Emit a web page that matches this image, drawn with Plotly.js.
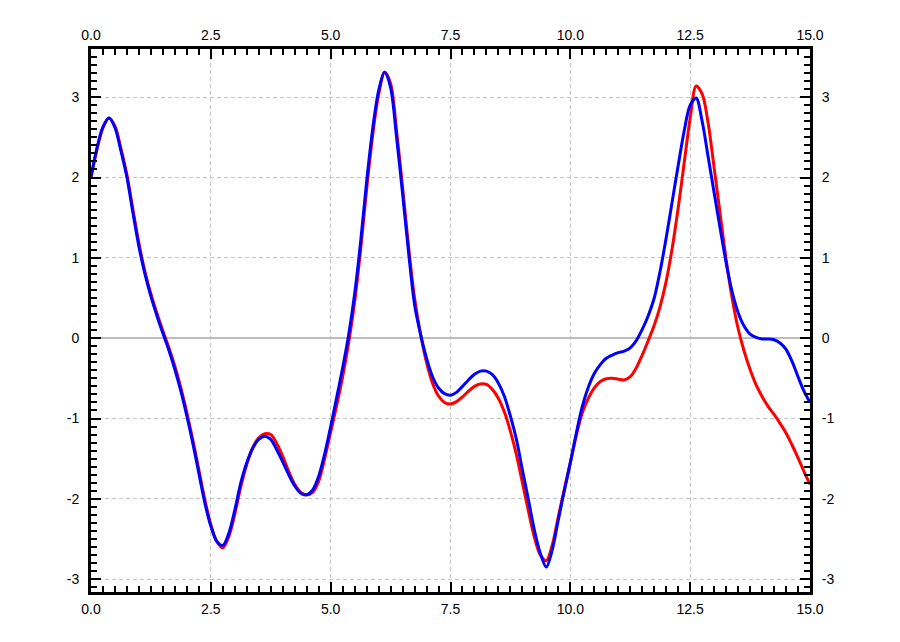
<!DOCTYPE html>
<html>
<head>
<meta charset="utf-8">
<script src="https://cdn.plot.ly/plotly-3.0.1.min.js"></script>
<style>html,body{margin:0;padding:0;background:#fff;}#chart{width:900px;height:642px;}</style>
</head>
<body>
<div id="chart"></div>
<script>
var xValues = [0,0.125,0.25,0.375,0.5,0.625,0.75,0.875,1,1.125,1.25,1.375,1.5,1.625,1.75,1.875,
  2,2.125,2.25,2.375,2.5,2.625,2.75,2.875,3,3.125,3.25,3.375,3.5,3.625,3.75,3.875,
  4,4.125,4.25,4.375,4.5,4.625,4.75,4.875,5,5.125,5.25,5.375,5.5,5.625,5.75,5.875,
  6,6.125,6.25,6.375,6.5,6.625,6.75,6.875,7,7.125,7.25,7.375,7.5,7.625,7.75,7.875,
  8,8.125,8.25,8.375,8.5,8.625,8.75,8.875,9,9.125,9.25,9.375,9.5,9.625,9.75,9.875,
  10,10.125,10.25,10.375,10.5,10.625,10.75,10.875,11,11.125,11.25,11.375,11.5,11.625,11.75,11.875,
  12,12.125,12.25,12.375,12.5,12.625,12.75,12.875,13,13.125,13.25,13.375,13.5,13.625,13.75,13.875,
  14,14.125,14.25,14.375,14.5,14.625,14.75,14.875,15];

var redValues = [2.00,2.35,2.62,2.74,2.64,2.36,2.03,1.60,1.18,0.83,0.55,0.31,0.09,-0.12,-0.35,-0.62,
  -0.93,-1.27,-1.64,-2.01,-2.32,-2.53,-2.61,-2.47,-2.19,-1.85,-1.57,-1.36,-1.24,-1.19,-1.20,-1.31,
  -1.47,-1.66,-1.82,-1.92,-1.95,-1.92,-1.78,-1.50,-1.17,-0.84,-0.48,-0.06,0.45,1.10,1.85,2.52,
  3.03,3.31,3.17,2.58,1.88,1.14,0.50,0.05,-0.30,-0.56,-0.72,-0.80,-0.82,-0.79,-0.73,-0.66,
  -0.60,-0.57,-0.575,-0.64,-0.75,-0.92,-1.16,-1.45,-1.80,-2.15,-2.48,-2.70,-2.77,-2.57,-2.22,-1.88,
  -1.55,-1.21,-0.93,-0.75,-0.62,-0.54,-0.505,-0.50,-0.51,-0.52,-0.48,-0.37,-0.21,-0.03,0.16,0.40,
  0.71,1.12,1.62,2.18,2.74,3.14,3.04,2.68,2.12,1.55,0.98,0.50,0.12,-0.16,-0.39,-0.58,
  -0.725,-0.85,-0.95,-1.06,-1.18,-1.33,-1.49,-1.66,-1.82];

var blueValues = [2.01,2.37,2.63,2.74,2.62,2.33,2.00,1.56,1.14,0.80,0.52,0.28,0.06,-0.15,-0.39,-0.66,
  -0.97,-1.31,-1.68,-2.05,-2.34,-2.53,-2.58,-2.43,-2.14,-1.80,-1.55,-1.37,-1.26,-1.22,-1.26,-1.39,
  -1.54,-1.70,-1.84,-1.93,-1.95,-1.89,-1.72,-1.44,-1.10,-0.74,-0.37,0.04,0.55,1.20,1.95,2.60,
  3.08,3.31,3.12,2.50,1.80,1.07,0.42,0.05,-0.25,-0.48,-0.62,-0.69,-0.71,-0.675,-0.60,-0.52,
  -0.45,-0.41,-0.41,-0.455,-0.56,-0.725,-0.97,-1.26,-1.64,-2.01,-2.39,-2.68,-2.85,-2.63,-2.26,-1.90,
  -1.55,-1.18,-0.85,-0.61,-0.44,-0.33,-0.25,-0.21,-0.18,-0.16,-0.12,-0.03,0.11,0.28,0.50,0.84,
  1.25,1.70,2.15,2.58,2.90,2.99,2.70,2.26,1.81,1.37,0.94,0.58,0.32,0.15,0.05,0.01,
  -0.01,-0.01,-0.02,-0.06,-0.14,-0.29,-0.48,-0.66,-0.80];

var xTickVals = [0,2.5,5,7.5,10,12.5,15];
var xTickText = ['0.0','2.5','5.0','7.5','10.0','12.5','15.0'];
var yTickVals = [-3,-2,-1,0,1,2,3];
var yTickText = ['-3','-2','-1','0','1','2','3'];

var xRange = [0,15];
var yRange = [-3.16,3.6];

var font = {family:'Liberation Sans, Arial, sans-serif', size:14, color:'#000'};

var traces = [
  {x:xValues, y:redValues, type:'scatter', mode:'lines', line:{color:'#ff0000', width:3, shape:'spline', smoothing:0.9}, hoverinfo:'skip'},
  {x:xValues, y:blueValues, type:'scatter', mode:'lines', line:{color:'#0000ff', width:3, shape:'spline', smoothing:0.9}, hoverinfo:'skip'},
  {x:xValues, y:blueValues, xaxis:'x2', yaxis:'y2', type:'scatter', mode:'lines', line:{color:'rgba(0,0,0,0)', width:0}, hoverinfo:'skip'}
];

function axisBase(vals, text, range, minorDtick, standoff){
  return {
    range: range, autorange:false,
    tickmode:'array', tickvals: vals, ticktext: text,
    ticks:'inside', ticklen:10, tickwidth:2, tickcolor:'#000',
    minor:{dtick:minorDtick, ticks:'inside', ticklen:6, tickwidth:2, tickcolor:'#000', showgrid:false},
    showline:true, linecolor:'#000', linewidth:3,
    tickfont: font, zeroline:false, fixedrange:true, showgrid:false,
    ticklabelstandoff: standoff
  };
}

var xa = axisBase(xTickVals, xTickText, xRange, 0.25, 2);
xa.showgrid = true; xa.gridcolor = '#c4c4c4'; xa.gridwidth = 1; xa.griddash = '4px,3px';
xa.mirror = true;
var ya = axisBase(yTickVals, yTickText, yRange, 0.1, 6);
ya.showgrid = true; ya.gridcolor = '#c4c4c4'; ya.gridwidth = 1; ya.griddash = '4px,3px';
ya.zeroline = true; ya.zerolinecolor = '#bdbdbd'; ya.zerolinewidth = 1.5;
ya.mirror = true;

var xa2 = axisBase(xTickVals, xTickText, xRange, 0.25, 0);
xa2.overlaying = 'x'; xa2.side = 'top'; xa2.anchor = 'y2';
var ya2 = axisBase(yTickVals, yTickText, yRange, 0.1, 6);
ya2.overlaying = 'y'; ya2.side = 'right'; ya2.anchor = 'x2';

var layout = {
  width:900, height:642,
  margin:{l:91, r:90, t:49, b:50, pad:0},
  paper_bgcolor:'#fff', plot_bgcolor:'#fff',
  showlegend:false,
  xaxis: xa, yaxis: ya, xaxis2: xa2, yaxis2: ya2
};

Plotly.newPlot('chart', traces, layout, {staticPlot:true, displayModeBar:false});
</script>
</body>
</html>
